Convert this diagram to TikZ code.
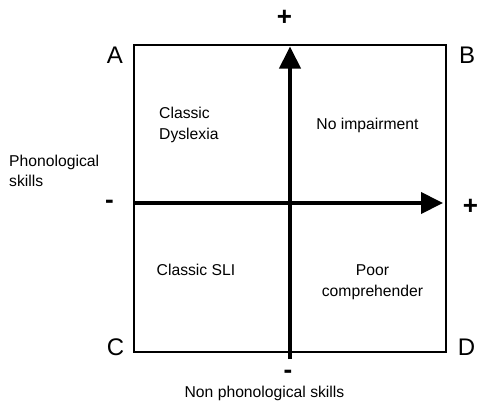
\documentclass[tikz,border=0pt]{standalone}
\usepackage{fontspec}
\setmainfont{Liberation Sans}
\usetikzlibrary{arrows.meta}
\begin{document}
\begin{tikzpicture}[x=1pt,y=-1pt,
  lbl/.style={inner sep=0pt,font=\fontsize{15.7}{18}\selectfont},
  corner/.style={inner sep=0pt,anchor=base,font=\fontsize{24}{28}\selectfont},
  sign/.style={inner sep=0pt,anchor=base,font=\fontsize{26}{30}\selectfont\bfseries},
  axis/.style={line width=4pt,-{Triangle[length=22pt,width=21pt]}},
  frame/.style={draw,line width=1.1pt}]
\useasboundingbox (0,0) rectangle (478,402);
% frame
\coordinate (tl) at (134,45);
\coordinate (br) at (446,352);
\draw[frame] (tl) rectangle (br);
% axes
\coordinate (vb) at (290,359);
\coordinate (vt) at (290,46.5);
\coordinate (hl) at (134,203);
\coordinate (hr) at (443,203);
\draw[axis] (hl) -- (hr);
\draw[axis] (vb) -- (vt);
% corner letters
\node[corner] (A) at (115,63) {A};
\node[corner] (B) at (467,63) {B};
\node[corner] (C) at (115.5,355) {C};
\node[corner] (D) at (466.5,355) {D};
% signs
\node[sign] (ptop) at (284.5,25) {+};
\node[sign] (pright) at (470.5,214) {+};
\node[sign] (mleft) at (109.5,208) {-};
\node[sign] (mbot) at (288,378) {-};
% quadrant labels
\node[lbl,anchor=base west] (cd1) at (159,118) {Classic};
\node[lbl,anchor=base west] (cd2) at (159,139) {Dyslexia};
\node[lbl,anchor=base] (ni) at (367.5,129) {No impairment};
\node[lbl,anchor=base] (sli) at (196,275) {Classic SLI};
\node[lbl,anchor=base] (pc1) at (372.5,275) {Poor};
\node[lbl,anchor=base] (pc2) at (372.5,296) {comprehender};
% axis titles
\node[lbl,anchor=base west] (ph1) at (9,166) {Phonological};
\node[lbl,anchor=base west] (ph2) at (9,186) {skills};
\node[lbl,anchor=base] (nps) at (264.5,397) {Non phonological skills};
\end{tikzpicture}
\end{document}
